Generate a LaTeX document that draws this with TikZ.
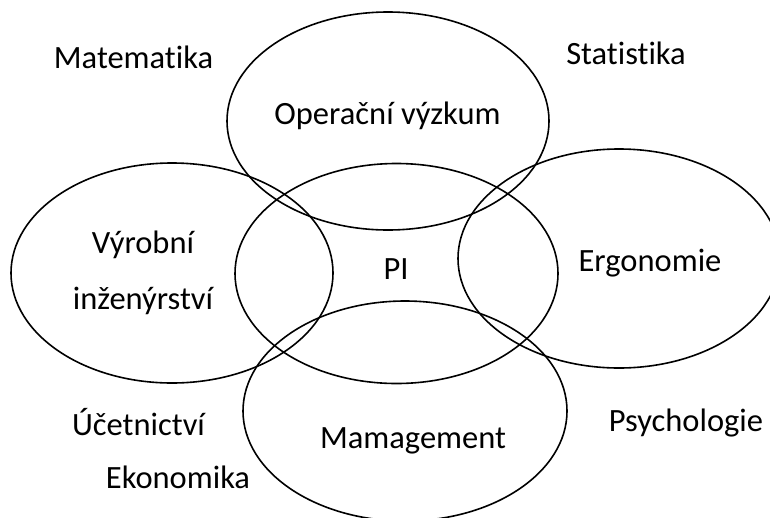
\documentclass[tikz,border=0pt]{standalone}
\usepackage{fontspec}
\setmainfont{Carlito}[Ligatures={NoCommon}]
\begin{document}
\begin{tikzpicture}[x=1pt,y=-1pt,
  field/.style={draw=black,line width=1.6pt},
  lbl/.style={anchor=base,inner sep=0pt,font=\fontsize{32.5}{38}\selectfont}]
\useasboundingbox (0,0) rectangle (770,517);
\clip (0,0) rectangle (770,517);
% overlapping fields
\draw[field] (388,121) ellipse [x radius=161,y radius=109];
\draw[field] (172,273) ellipse [x radius=161,y radius=110];
\draw[field] (396.5,273.5) ellipse [x radius=161.5,y radius=110];
\draw[field] (619,258.5) ellipse [x radius=161,y radius=109.5];
\draw[field] (405,411) ellipse [x radius=162,y radius=110];
% labels inside the fields
\node[lbl] (or) at (387.5,124) {Operační výzkum};
\node[lbl] (vy1) at (143,253) {Výrobní};
\node[lbl] (vy2) at (143,309) {inženýrství};
\node[lbl] (pi) at (396,279) {PI};
\node[lbl] (erg) at (650,271) {Ergonomie};
\node[lbl] (man) at (413,448) {Mamagement};
% surrounding disciplines
\node[lbl] (mat) at (133.5,68) {Matematika};
\node[lbl] (sta) at (626,64) {Statistika};
\node[lbl] (psy) at (686,431) {Psychologie};
\node[lbl] (uce) at (138.5,435) {Účetnictví};
\node[lbl] (eko) at (178,488) {Ekonomika};
\end{tikzpicture}
\end{document}
